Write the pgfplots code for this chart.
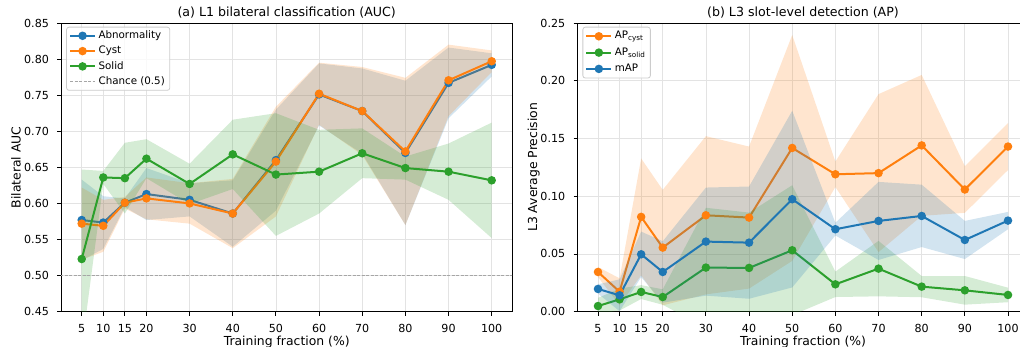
\documentclass[border=0pt]{standalone}
\usepackage{fontspec}
\setmainfont{DejaVu Sans}
\usepackage{pgfplots}
\pgfplotsset{compat=1.18}
\definecolor{tabblue}{HTML}{1F77B4}
\definecolor{taborange}{HTML}{FF7F0E}
\definecolor{tabgreen}{HTML}{2CA02C}
\pgfplotsset{
  myaxis/.style={
    scale only axis, width=451pt, height=288.7pt, anchor=south west,
    xmin=0.25, xmax=104.75,
    xtick={5,10,15,20,30,40,50,60,70,80,90,100},
    tick pos=left, tick align=outside, major tick length=3.9pt,
    every tick/.style={black, line width=0.9pt},
    axis line style={line width=0.9pt, black},
    grid=major, major grid style={gray!22, line width=0.8pt},
    tick label style={font=\fontsize{11.1}{13}\selectfont, inner sep=0pt},
    xticklabel style={anchor=base, yshift=-16.6pt},
    yticklabel style={anchor=east, xshift=-8.2pt, /pgf/number format/.cd, fixed, fixed zerofill, precision=2},
    /pgf/number format/assume math mode=true,
    label style={font=\fontsize{12.4}{15}\selectfont},
    xlabel style={at={(axis description cs:0.5,0)}, anchor=base, yshift=-33.5pt},
    ylabel style={at={(axis description cs:-0.0898,0.5)}, anchor=base},
    title style={at={(axis description cs:0.5,1)}, anchor=base, yshift=0.5pt, font=\fontsize{12.6}{15}\selectfont},
    legend cell align=left,
    legend image code/.code={\draw[mark repeat=2,mark phase=2,##1, fill opacity=1, draw opacity=1] plot coordinates {(0pt,0pt) (12.5pt,0pt) (25pt,0pt)};},
    legend style={at={(axis description cs:0.011,0.987)}, anchor=north west,
      font=\fontsize{10.3}{12}\selectfont, draw=black!20, line width=0.8pt,
      rounded corners=2.5pt, fill=white, fill opacity=0.8, draw opacity=1, text opacity=1,
      inner ysep=1pt, inner xsep=2.5pt, row sep=0pt, column sep=0pt},
  },
  ser/.style={color=#1, line width=2pt, mark=*, mark size=3.2pt, mark options={solid, fill=#1, draw=#1}},
  band/.style={draw=none, fill=#1, fill opacity=0.2, forget plot},
}
\begin{document}
\begin{tikzpicture}
\useasboundingbox (0pt,0pt) rectangle (1020pt,347pt);
% ---------------- (a) ----------------
\begin{axis}[myaxis, at={(61.2pt,35.3pt)},
  ymin=0.45, ymax=0.85, ytick={0.45,0.5,0.55,0.6,0.65,0.7,0.75,0.8,0.85},
  title={(a) L1 bilateral classification (AUC)},
  xlabel={Training fraction (\%)}, ylabel={Bilateral AUC},
  legend style={nodes={inner sep=2.5pt, text height=7.8pt, text depth=2.5pt}}]
\addplot[band=tabblue] coordinates {(5,0.633) (10,0.610) (15,0.607) (20,0.649) (30,0.628) (40,0.632) (50,0.730) (60,0.794) (70,0.787) (80,0.770) (90,0.816) (100,0.808)
 (100,0.776) (90,0.718) (80,0.570) (70,0.669) (60,0.708) (50,0.590) (40,0.540) (30,0.582) (20,0.577) (15,0.595) (10,0.537) (5,0.521)};
\addplot[ser=tabblue] coordinates {(5,0.577) (10,0.5735) (15,0.601) (20,0.613) (30,0.605) (40,0.586) (50,0.660) (60,0.751) (70,0.728) (80,0.670) (90,0.767) (100,0.792)};
\addlegendentry{Abnormality}
\addplot[band=taborange] coordinates {(5,0.622) (10,0.605) (15,0.609) (20,0.636) (30,0.628) (40,0.634) (50,0.734) (60,0.795) (70,0.789) (80,0.774) (90,0.820) (100,0.812)
 (100,0.782) (90,0.721) (80,0.570) (70,0.667) (60,0.709) (50,0.582) (40,0.538) (30,0.572) (20,0.578) (15,0.593) (10,0.533) (5,0.522)};
\addplot[ser=taborange] coordinates {(5,0.572) (10,0.569) (15,0.601) (20,0.607) (30,0.600) (40,0.586) (50,0.658) (60,0.752) (70,0.728) (80,0.672) (90,0.7706) (100,0.797)};
\addlegendentry{Cyst}
\addplot[band=tabgreen] coordinates {(5,0.647) (10,0.645) (15,0.684) (20,0.689) (30,0.655) (40,0.716) (50,0.725) (60,0.702) (70,0.704) (80,0.665) (90,0.683) (100,0.712)
 (100,0.552) (90,0.605) (80,0.633) (70,0.635) (60,0.586) (50,0.555) (40,0.620) (30,0.599) (20,0.635) (15,0.586) (10,0.627) (5,0.399)};
\addplot[ser=tabgreen] coordinates {(5,0.523) (10,0.636) (15,0.635) (20,0.662) (30,0.627) (40,0.668) (50,0.640) (60,0.644) (70,0.6695) (80,0.649) (90,0.644) (100,0.632)};
\addlegendentry{Solid}
\addplot[color=gray!70, line width=0.8pt, dash pattern=on 3pt off 1.5pt] coordinates {(0,0.5) (110,0.5)};
\addlegendentry{Chance (0.5)}
\end{axis}
% ---------------- (b) ----------------
\begin{axis}[myaxis, at={(577.5pt,35.3pt)},
  ymin=0, ymax=0.25, ytick={0,0.05,0.1,0.15,0.2,0.25},
  title={(b) L3 slot-level detection (AP)},
  xlabel={Training fraction (\%)}, ylabel={L3 Average Precision},
  legend style={nodes={inner sep=2.5pt, text height=8.3pt, text depth=3.0pt}}]
\addplot[band=taborange] coordinates {(5,0.0387) (10,0.0289) (15,0.1327) (20,0.1055) (30,0.152) (40,0.143) (50,0.2396) (60,0.130) (70,0.1884) (80,0.205) (90,0.126) (100,0.1633)
 (100,0.1227) (90,0.0856) (80,0.083) (70,0.0516) (60,0.108) (50,0.044) (40,0.020) (30,0.015) (20,0.0055) (15,0.0315) (10,0.0057) (5,0.030)};
\addplot[ser=taborange] coordinates {(5,0.0344) (10,0.0173) (15,0.0821) (20,0.0555) (30,0.0835) (40,0.0815) (50,0.1418) (60,0.119) (70,0.120) (80,0.144) (90,0.1058) (100,0.143)};
\addlegendentry{AP\textsubscript{cyst}}
\addplot[band=tabgreen] coordinates {(5,0.012) (10,0.020) (15,0.023) (20,0.0194) (30,0.090) (40,0.0858) (50,0.1095) (60,0.0347) (70,0.0613) (80,0.0309) (90,0.0309) (100,0.0208)
 (100,0.0082) (90,0.0061) (80,0.0125) (70,0.0133) (60,0.0127) (50,-0.003) (40,-0.010) (30,-0.014) (20,0.006) (15,0.011) (10,0.001) (5,-0.002)};
\addplot[ser=tabgreen] coordinates {(5,0.0049) (10,0.0107) (15,0.0171) (20,0.0127) (30,0.0382) (40,0.0379) (50,0.0532) (60,0.0237) (70,0.0373) (80,0.0217) (90,0.0185) (100,0.0145)};
\addlegendentry{AP\textsubscript{solid}}
\addplot[band=tabblue] coordinates {(5,0.0237) (10,0.028) (15,0.0694) (20,0.061) (30,0.1075) (40,0.1084) (50,0.174) (60,0.077) (70,0.1124) (80,0.110) (90,0.0786) (100,0.0864)
 (100,0.0714) (90,0.0456) (80,0.056) (70,0.0448) (60,0.066) (50,0.021) (40,0.0112) (30,0.0139) (20,0.0078) (15,0.030) (10,0.0004) (5,0.0157)};
\addplot[ser=tabblue] coordinates {(5,0.0197) (10,0.0142) (15,0.0497) (20,0.0344) (30,0.0607) (40,0.0598) (50,0.0974) (60,0.0714) (70,0.0786) (80,0.0829) (90,0.0621) (100,0.0789)};
\addlegendentry{mAP}
\end{axis}
\end{tikzpicture}
\end{document}
